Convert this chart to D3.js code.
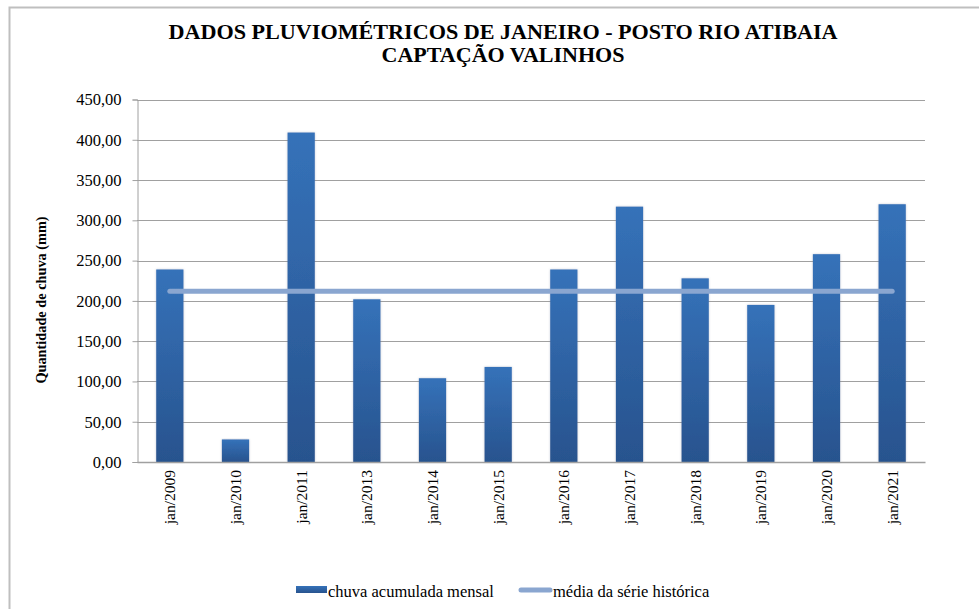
<!DOCTYPE html>
<html>
<head>
<meta charset="utf-8">
<script src="https://cdn.jsdelivr.net/npm/d3@7"></script>
<style>
body{margin:0;background:#fff;}
svg{display:block;}
svg text{font-family:"Liberation Serif","Times New Roman",Times,"DejaVu Serif",serif;}
</style>
</head>
<body>
<svg id="chart" width="979" height="609"></svg>
<script>
const categories = ["jan/2009","jan/2010","jan/2011","jan/2013","jan/2014","jan/2015","jan/2016","jan/2017","jan/2018","jan/2019","jan/2020","jan/2021"];
const rainValues = [239, 28, 409, 202, 104, 118, 239, 317, 228, 195, 258, 320];
const meanValues = [212, 212, 212, 212, 212, 212, 212, 212, 212, 212, 212, 212];
const yTicks = [0, 50, 100, 150, 200, 250, 300, 350, 400, 450];
const titleLines = ["DADOS PLUVIOMÉTRICOS DE JANEIRO - POSTO RIO ATIBAIA", "CAPTAÇÃO VALINHOS"];
const yTitle = "Quantidade de chuva (mm)";
const legendLabels = ["chuva acumulada mensal", "média da série histórica"];

(function(){
const svg = d3.select("#chart");

// outer border
svg.append("path").attr("d","M9.5,609 L9.5,7.5 L979,7.5").attr("fill","none").attr("stroke","#bfbfbf").attr("stroke-width",2);

const pLeft = 137, pRight = 925, pTop = 99.5, pBottom = 462;
const x = d3.scaleBand().domain(categories).range([pLeft, pRight]).paddingInner(0.585).paddingOuter(0.2925);
const y = d3.scaleLinear().domain([0, 450]).range([pBottom, pTop]);

const defs = svg.append("defs");
const grad = defs.append("linearGradient").attr("id","barGrad").attr("x1",0).attr("y1",0).attr("x2",0).attr("y2",1);
grad.append("stop").attr("offset","0%").attr("stop-color","#3572b9");
grad.append("stop").attr("offset","100%").attr("stop-color","#28538e");
const filt = defs.append("filter").attr("id","shadow").attr("x","-30%").attr("y","-5%").attr("width","160%").attr("height","110%");
filt.append("feDropShadow").attr("dx",0).attr("dy",0).attr("stdDeviation",1.2).attr("flood-color","#7a8aa0").attr("flood-opacity",0.45);

// gridlines
svg.append("g").selectAll("line").data(yTicks.filter(d => d > 0)).join("line")
  .attr("x1", pLeft).attr("x2", pRight)
  .attr("y1", d => Math.round(y(d)) + 0.5).attr("y2", d => Math.round(y(d)) + 0.5)
  .attr("stroke", "#a0a0a0").attr("stroke-width", 1);

// y axis
const yAxis = d3.axisLeft(y).tickValues(yTicks).tickSize(5).tickPadding(11)
  .tickFormat(d => d3.format(".2f")(d).replace(".", ","));
const gy = svg.append("g").attr("transform", `translate(${pLeft + 0.5},0)`).call(yAxis);
gy.attr("font-family", null);
gy.select(".domain").attr("stroke", "#a0a0a0");
gy.selectAll(".tick line").attr("stroke", "#a0a0a0");
gy.selectAll(".tick text").attr("font-size", 16.5).attr("fill", "#000");

// bars
svg.append("g").selectAll("rect").data(rainValues).join("rect")
  .attr("x", (d, i) => x(categories[i]))
  .attr("y", d => y(d))
  .attr("width", x.bandwidth())
  .attr("height", d => pBottom - y(d))
  .attr("fill", "url(#barGrad)")
  .attr("filter", "url(#shadow)");

// x axis
const xAxis = d3.axisBottom(x).tickSize(0).tickPadding(0);
const gx = svg.append("g").attr("transform", `translate(0,${pBottom})`).call(xAxis);
gx.attr("font-family", null);
gx.select(".domain").attr("stroke", "#a0a0a0").attr("stroke-width", 1.5);
gx.selectAll(".tick text")
  .attr("font-size", 15.5).attr("fill", "#000")
  .attr("text-anchor", "end")
  .attr("transform", "rotate(-90)")
  .attr("x", -8).attr("y", 0).attr("dy", "0.35em");

// mean line
const line = d3.line().x((d, i) => x(categories[i]) + x.bandwidth() / 2).y(d => y(d));
svg.append("path").datum(meanValues).attr("d", line)
  .attr("fill", "none").attr("stroke", "#8aa6d0").attr("stroke-width", 5).attr("stroke-linecap", "round");

// title
const titleWidths = [669, 243];
svg.append("g").selectAll("text").data(titleLines).join("text")
  .attr("text-anchor", "middle")
  .attr("font-weight", "bold").attr("font-size", 20).attr("fill", "#000")
  .attr("textLength", (d, i) => titleWidths[i]).attr("lengthAdjust", "spacingAndGlyphs")
  .attr("x", 503).attr("y", (d, i) => 38.5 + i * 23).text(d => d);

// y title
svg.append("text").attr("transform", "translate(46,300) rotate(-90)").attr("text-anchor", "middle")
  .attr("font-weight", "bold").attr("font-size", 14.3).attr("fill", "#000")
  .text(yTitle);

// legend
const lg = svg.append("g");
lg.append("rect").attr("x", 296).attr("y", 586).attr("width", 31).attr("height", 7).attr("fill", "url(#barGrad)");
lg.append("text").attr("x", 328).attr("y", 597).attr("font-size", 16.5).attr("fill", "#000").text(legendLabels[0]);
lg.append("line").attr("x1", 521).attr("x2", 550).attr("y1", 590).attr("y2", 590)
  .attr("stroke", "#8aa6d0").attr("stroke-width", 5).attr("stroke-linecap", "round");
lg.append("text").attr("x", 553).attr("y", 597).attr("font-size", 16.5).attr("fill", "#000").text(legendLabels[1]);
})();
</script>
</body>
</html>
